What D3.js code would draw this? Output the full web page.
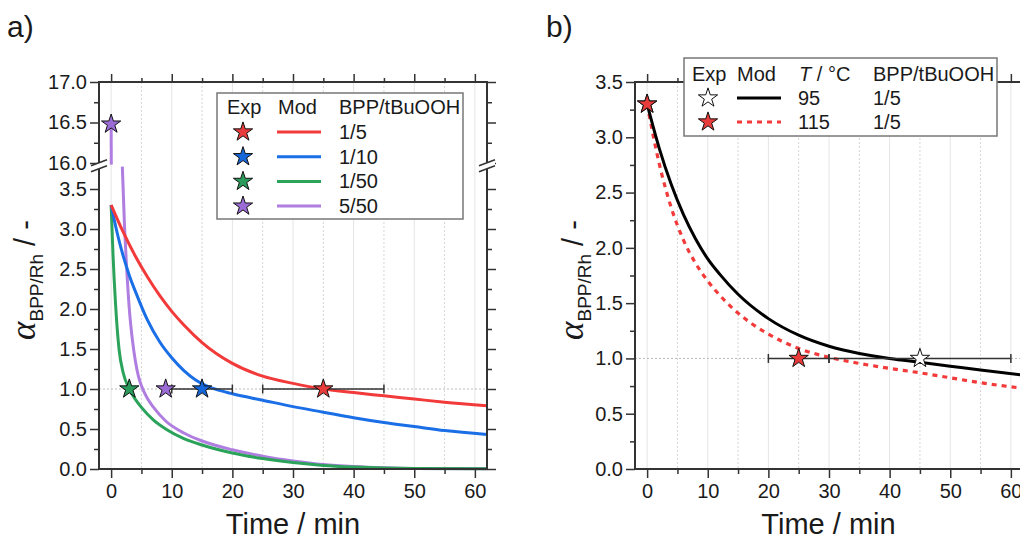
<!DOCTYPE html>
<html>
<head>
<meta charset="utf-8">
<script src="https://cdn.jsdelivr.net/npm/d3@7"></script>
<style>
  body{margin:0;background:#fff;}
  svg text{font-family:Arial,"Liberation Sans",sans-serif;fill:#1a1a1a;}
</style>
</head>
<body>
<svg id="chart" width="1020" height="542"></svg>
<script>
// ---- data ----
var xMajor = [0,10,20,30,40,50,60];
var xMinor = [5,15,25,35,45,55];
var yMajor = [0,0.5,1,1.5,2,2.5,3,3.5];
var yMinor = [0.25,0.75,1.25,1.75,2.25,2.75,3.25];
var yHighMajor = [16,16.5,17];
var yHighMinor = [16.25,16.75];

// panel a: models, BPP/tBuOOH ratios
var ratiosA = ["1/5","1/10","1/50","5/50"];
var model15 = [[0,3.3],[2,2.96],[4,2.66],[6,2.4],[8,2.17],[10,1.97],[12,1.8],[15,1.58],[20,1.32],[25,1.16],[30,1.07],[35,1.0],[40,0.955],[45,0.915],[50,0.875],[55,0.835],[62,0.79]];
var model110 = [[0,3.3],[1,2.95],[2,2.66],[3,2.42],[4,2.22],[6,1.86],[8,1.59],[10,1.39],[12,1.23],[14,1.11],[16,1.03],[18,0.98],[20,0.94],[25,0.86],[30,0.78],[35,0.71],[40,0.64],[45,0.58],[50,0.53],[55,0.48],[62,0.43]];
var model150 = [[0,3.3],[0.3,2.7],[0.7,2.1],[1.3,1.5],[2,1.2],[3,1.0],[4,0.87],[5,0.77],[7,0.61],[9,0.5],[12,0.38],[15,0.3],[20,0.2],[25,0.13],[30,0.08],[35,0.045],[40,0.025],[45,0.012],[50,0.006],[62,0.002]];
var model550High = [[0,16.48],[0.03,15.98]];
var model550 = [[1.85,3.78],[2.2,3.05],[2.5,2.6],[3,2.0],[3.5,1.62],[4,1.35],[4.5,1.16],[5,1.04],[6,0.88],[7,0.77],[9,0.6],[12,0.45],[15,0.35],[20,0.24],[25,0.16],[30,0.1],[35,0.055],[40,0.03],[45,0.015],[50,0.007],[62,0.002]];
var modelsA = [model15, model110, model150, model550];

// panel a: experiments (time, alpha, error range on time)
var expTimeA = [35, 15, 3, 9];
var expAlphaA = [1.0, 1.0, 1.0, 1.0];
var expLoA = [25, 10, null, null];
var expHiA = [45, 20, null, null];
var expStartA = [0, 16.48]; // 5/50 at t = 0

// panel b: temperatures
var tempsB = ["95","115"];
var ratiosB = ["1/5","1/5"];
var model95 = [[0,3.3],[2,2.9],[4,2.57],[6,2.3],[8,2.08],[10,1.9],[12,1.76],[15,1.58],[20,1.36],[25,1.21],[30,1.11],[35,1.045],[40,1.0],[45,0.965],[50,0.93],[55,0.895],[62,0.85]];
var model115 = [[0,3.3],[2,2.76],[4,2.36],[6,2.07],[8,1.86],[10,1.7],[12,1.57],[15,1.41],[20,1.22],[25,1.09],[30,1.01],[35,0.955],[40,0.91],[45,0.87],[50,0.825],[55,0.78],[62,0.73]];
var expTimeB = [45, 25];
var expAlphaB = [1.0, 1.0];
var expLoB = [30, 20];
var expHiB = [60, 30];
var expStartB = [0, 3.3];

// ---- styles ----
var lineColA = ["#f23a3a","#1a6ee6","#2ca35a","#b07de0"];
var starColA = ["#e83b3b","#1566d8","#2a9a5a","#9b6bd6"];
var axisCol = "#333";
var star = d3.symbol(d3.symbolStar, 115);

var svg = d3.select('#chart');
var yBottom = 469, yTop = 82;

function styleAxis(g){
  g.select('.domain').remove();
  g.selectAll('.tick line').attr('stroke', axisCol).attr('stroke-width', 1.5);
  g.selectAll('.tick text').attr('font-size', 20).attr('fill', '#1a1a1a');
}

function grid(g, x){
  xMajor.concat(xMinor).forEach(function(t){
    var minor = xMinor.indexOf(t) >= 0;
    g.append('line').attr('x1', x(t)).attr('x2', x(t)).attr('y1', yTop).attr('y2', yBottom)
      .attr('stroke', minor ? '#d6d6d6' : '#e4e4e4').attr('stroke-width', 1)
      .attr('stroke-dasharray', minor ? '2,2' : null);
  });
}

function xAxes(g, x){
  g.append('g').attr('transform','translate(0,'+yBottom+')')
    .call(d3.axisBottom(x).tickValues(xMajor).tickSize(9).tickPadding(6).tickFormat(d3.format('d'))).call(styleAxis);
  g.append('g').attr('transform','translate(0,'+yBottom+')')
    .call(d3.axisBottom(x).tickValues(xMinor).tickSize(5).tickFormat('')).call(styleAxis);
  g.append('g').attr('transform','translate(0,'+yTop+')')
    .call(d3.axisTop(x).tickValues(xMajor).tickSize(8).tickFormat('')).call(styleAxis);
  g.append('g').attr('transform','translate(0,'+yTop+')')
    .call(d3.axisTop(x).tickValues(xMinor).tickSize(4).tickFormat('')).call(styleAxis);
}

function yAxes(g, y, xl, xr, major, minor, labels){
  g.append('g').attr('transform','translate('+xl+',0)')
    .call(d3.axisLeft(y).tickValues(major).tickSize(9).tickPadding(3).tickFormat(labels ? d3.format('.1f') : '')).call(styleAxis);
  g.append('g').attr('transform','translate('+xl+',0)')
    .call(d3.axisLeft(y).tickValues(minor).tickSize(5).tickFormat('')).call(styleAxis);
  if (xr !== null){
    g.append('g').attr('transform','translate('+xr+',0)')
      .call(d3.axisRight(y).tickValues(major).tickSize(9).tickFormat('')).call(styleAxis);
    g.append('g').attr('transform','translate('+xr+',0)')
      .call(d3.axisRight(y).tickValues(minor).tickSize(5).tickFormat('')).call(styleAxis);
  }
}

function frameLine(g, x1, y1, x2, y2){
  g.append('line').attr('x1',x1).attr('y1',y1).attr('x2',x2).attr('y2',y2)
    .attr('stroke', axisCol).attr('stroke-width', 2).attr('stroke-linecap','square');
}

function errBar(g, x, y, lo, hi, a){
  if (lo === null) return;
  var yy = y(a);
  g.append('line').attr('x1',x(lo)).attr('x2',x(hi)).attr('y1',yy).attr('y2',yy).attr('stroke',axisCol).attr('stroke-width',1.5);
  [lo,hi].forEach(function(v){
    g.append('line').attr('x1',x(v)).attr('x2',x(v)).attr('y1',yy-4.5).attr('y2',yy+4.5).attr('stroke',axisCol).attr('stroke-width',1.5);
  });
}

function drawStar(g, px, py, fill){
  g.append('path').attr('d', star).attr('transform','translate('+px+','+py+')')
    .attr('fill', fill).attr('stroke','#111').attr('stroke-width',1);
}

function yTitle(x, y){
  var t = svg.append('text').attr('transform','translate('+x+','+y+') rotate(-90)').attr('text-anchor','middle');
  t.append('tspan').attr('font-family','"Liberation Serif","DejaVu Serif",serif').attr('font-style','italic').attr('font-size',35).text('α');
  t.append('tspan').attr('font-size',19).attr('dy',8).text('BPP/Rh');
  t.append('tspan').attr('font-size',29).attr('dy',-8).text(' / -');
}

function xTitle(cx){
  svg.append('text').attr('x',cx).attr('y',534).attr('text-anchor','middle').attr('font-size',29).text('Time / min');
}

// ================= panel a =================
var xA = d3.scaleLinear().domain([-2,62]).range([99,487]);
var yLow = d3.scaleLinear().domain([0,3.5]).range([469,189]);
var yHigh = d3.scaleLinear().domain([16,17]).range([163,82]);
var lowTop = yLow(3.76), highBot = yHigh(15.97);
var gA = svg.append('g');

grid(gA, xA);
gA.append('line').attr('x1',xA.range()[0]).attr('x2',xA.range()[1]).attr('y1',yLow(1)).attr('y2',yLow(1))
  .attr('stroke','#bbb').attr('stroke-width',1).attr('stroke-dasharray','2,2');

var lineLow = d3.line().x(function(d){return xA(d[0]);}).y(function(d){return yLow(d[1]);}).curve(d3.curveMonotoneX);
var lineHigh = d3.line().x(function(d){return xA(d[0]);}).y(function(d){return yHigh(d[1]);});

// draw order: purple, green, blue, red
[3,2,1,0].forEach(function(i){
  gA.append('path').attr('d', lineLow(modelsA[i])).attr('fill','none')
    .attr('stroke', lineColA[i]).attr('stroke-width', 3);
});
gA.append('path').attr('d', lineHigh(model550High)).attr('fill','none').attr('stroke', lineColA[3]).attr('stroke-width', 3);

expTimeA.forEach(function(t,i){ errBar(gA, xA, yLow, expLoA[i], expHiA[i], expAlphaA[i]); });
expTimeA.forEach(function(t,i){ drawStar(gA, xA(t), yLow(expAlphaA[i]), starColA[i]); });
drawStar(gA, xA(expStartA[0]), yHigh(expStartA[1]), starColA[3]);

xAxes(gA, xA);
yAxes(gA, yLow, 99, 487, yMajor, yMinor, true);
yAxes(gA, yHigh, 99, 487, yHighMajor, yHighMinor, true);
frameLine(gA, 99, yBottom, 487, yBottom);
frameLine(gA, 99, yTop, 487, yTop);
[99,487].forEach(function(xx){
  frameLine(gA, xx, yBottom, xx, lowTop);
  frameLine(gA, xx, highBot, xx, yTop);
  // axis break marks
  var yc = (lowTop + highBot) / 2;
  gA.append('polygon').attr('points', [[xx-8,yc-1],[xx+8,yc-7],[xx+8,yc-1],[xx-8,yc+5]].join(' ')).attr('fill','#fff');
  gA.append('line').attr('x1',xx-8).attr('y1',yc-1).attr('x2',xx+8).attr('y2',yc-7).attr('stroke',axisCol).attr('stroke-width',1.5);
  gA.append('line').attr('x1',xx-8).attr('y1',yc+5).attr('x2',xx+8).attr('y2',yc-1).attr('stroke',axisCol).attr('stroke-width',1.5);
});

// legend a
var legA = svg.append('g');
legA.append('rect').attr('x',217).attr('y',93).attr('width',246).attr('height',126)
  .attr('fill','#fff').attr('stroke','#777').attr('stroke-width',1.5);
legA.append('text').attr('x',227).attr('y',114).attr('font-size',20).text('Exp');
legA.append('text').attr('x',278).attr('y',114).attr('font-size',20).text('Mod');
legA.append('text').attr('x',339).attr('y',114).attr('font-size',20).text('BPP/tBuOOH');
ratiosA.forEach(function(r,i){
  var yy = 132 + i*24.7;
  drawStar(legA, 243, yy, starColA[i]);
  legA.append('line').attr('x1',277).attr('x2',321).attr('y1',yy).attr('y2',yy).attr('stroke',lineColA[i]).attr('stroke-width',3);
  legA.append('text').attr('x',339).attr('y',yy+7).attr('font-size',20).text(r);
});

yTitle(35, 280);
xTitle((99+487)/2);
svg.append('text').attr('x',7).attr('y',37).attr('font-size',30).text('a)');

// ================= panel b =================
var xB = d3.scaleLinear().domain([-2,62]).range([635,1023]);
var yB = d3.scaleLinear().domain([0,3.5]).range([469,82]);
var gB = svg.append('g');

grid(gB, xB);
gB.append('line').attr('x1',xB.range()[0]).attr('x2',xB.range()[1]).attr('y1',yB(1)).attr('y2',yB(1))
  .attr('stroke','#bbb').attr('stroke-width',1).attr('stroke-dasharray','2,2');

var lineB = d3.line().x(function(d){return xB(d[0]);}).y(function(d){return yB(d[1]);}).curve(d3.curveMonotoneX);
gB.append('path').attr('d', lineB(model115)).attr('fill','none').attr('stroke','#f23a3a').attr('stroke-width',3.2).attr('stroke-dasharray','5,5');
gB.append('path').attr('d', lineB(model95)).attr('fill','none').attr('stroke','#000').attr('stroke-width',3);

var starColB = ["#fff","#e83b3b"];
expTimeB.forEach(function(t,i){ errBar(gB, xB, yB, expLoB[i], expHiB[i], expAlphaB[i]); });
drawStar(gB, xB(expStartB[0]), yB(expStartB[1]), starColB[0]);
drawStar(gB, xB(expStartB[0]), yB(expStartB[1]), starColB[1]);
expTimeB.forEach(function(t,i){ drawStar(gB, xB(t), yB(expAlphaB[i]), starColB[i]); });

xAxes(gB, xB);
yAxes(gB, yB, 635, null, yMajor, yMinor, true);
frameLine(gB, 635, yBottom, 1023, yBottom);
frameLine(gB, 635, yTop, 1023, yTop);
frameLine(gB, 635, yBottom, 635, yTop);

// legend b
var legB = svg.append('g');
legB.append('rect').attr('x',684).attr('y',58).attr('width',313).attr('height',78)
  .attr('fill','#fff').attr('stroke','#777').attr('stroke-width',1.5);
legB.append('text').attr('x',692).attr('y',81).attr('font-size',20).text('Exp');
legB.append('text').attr('x',737).attr('y',81).attr('font-size',20).text('Mod');
var th = legB.append('text').attr('x',799).attr('y',81).attr('font-size',20);
th.append('tspan').attr('font-style','italic').text('T');
th.append('tspan').text(' / °C');
legB.append('text').attr('x',873).attr('y',81).attr('font-size',20).text('BPP/tBuOOH');
tempsB.forEach(function(tp,i){
  var yy = 98 + i*24;
  drawStar(legB, 708, yy, starColB[i]);
  legB.append('line').attr('x1',737).attr('x2',781).attr('y1',yy).attr('y2',yy)
    .attr('stroke', i ? '#f23a3a' : '#000').attr('stroke-width', i ? 3.2 : 3)
    .attr('stroke-dasharray', i ? '5,5' : null);
  legB.append('text').attr('x',798).attr('y',yy+7).attr('font-size',20).text(tp);
  legB.append('text').attr('x',873).attr('y',yy+7).attr('font-size',20).text(ratiosB[i]);
});

yTitle(583, 280);
xTitle((635+1022)/2);
svg.append('text').attr('x',546).attr('y',37).attr('font-size',30).text('b)');
</script>
</body>
</html>
